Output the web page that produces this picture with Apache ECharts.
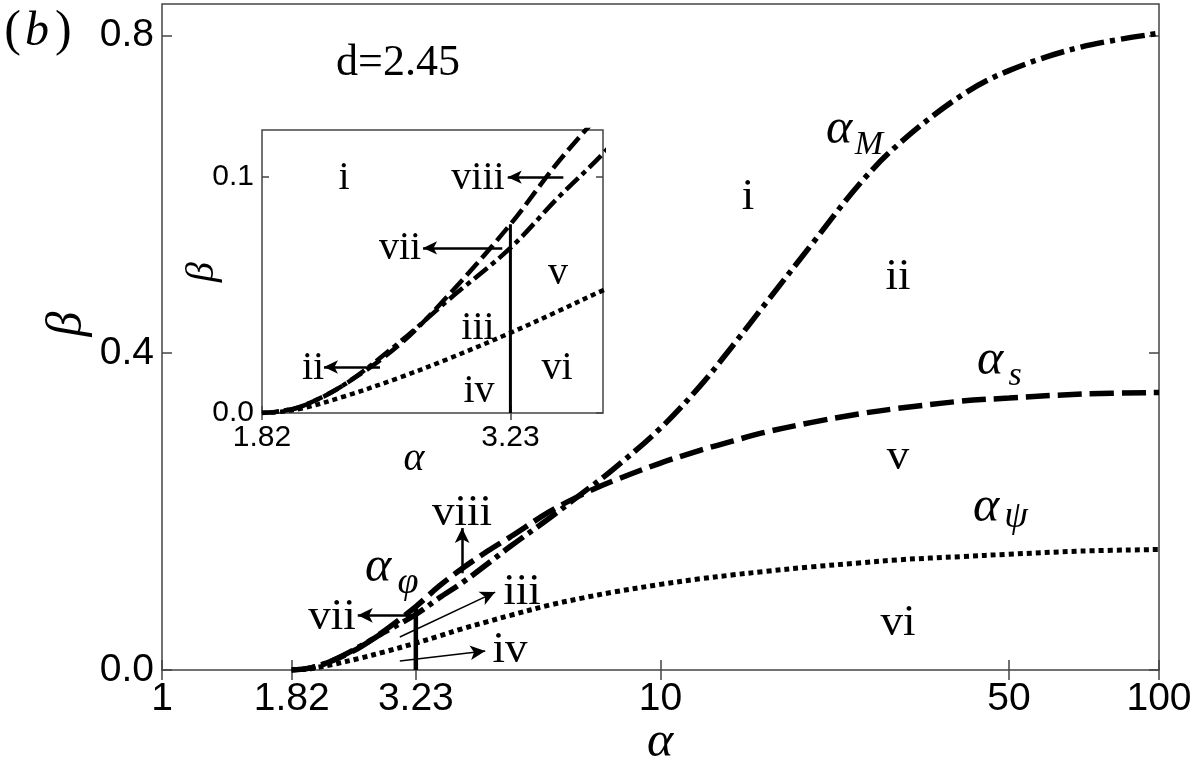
<!DOCTYPE html>
<html>
<head>
<meta charset="utf-8">
<title></title>
<script src="https://cdn.jsdelivr.net/npm/echarts@6/dist/echarts.min.js"></script>
<style>html,body{margin:0;padding:0;background:#fff;}</style>
</head>
<body>
<div id="chart" style="width:1196px;height:769px;"></div>
<script>
// alpha 取值 (横轴, 对数)
var alphaList = [1.82, 1.9, 2.0, 2.2, 2.5, 2.8, 3.23, 3.6, 4.0, 4.5, 5.0, 6.0, 7.0, 8.0, 10, 12, 14, 16, 20, 25, 30, 40, 50, 70, 100];
// alpha_M 曲线 (点划线)
var betaM = [0, 0.0008, 0.003, 0.012, 0.030, 0.048, 0.070, 0.091, 0.110, 0.134, 0.156, 0.192, 0.224, 0.252, 0.305, 0.358, 0.410, 0.457, 0.535, 0.612, 0.663, 0.724, 0.756, 0.786, 0.803];
// alpha_s 曲线 (虚线)
var betaS = [0, 0.0008, 0.003, 0.012, 0.029, 0.050, 0.080, 0.106, 0.128, 0.150, 0.168, 0.200, 0.222, 0.238, 0.261, 0.277, 0.289, 0.299, 0.312, 0.323, 0.330, 0.339, 0.343, 0.348, 0.350];
// alpha_psi 曲线 (点线)
var betaPsi = [0, 0.0005, 0.002, 0.007, 0.015, 0.023, 0.034, 0.043, 0.052, 0.061, 0.069, 0.082, 0.091, 0.098, 0.108, 0.115, 0.120, 0.124, 0.130, 0.135, 0.139, 0.143, 0.146, 0.150, 0.152];
// alpha_phi 竖线
var alphaPhi = [3.23, 3.23];
var betaPhi = [0, 0.08];

// 刻度
var xTicksMain = [1, 1.82, 3.23, 10, 50, 100];
var yTicksMain = [0, 0.4, 0.8];
var xTicksInset = [1.82, 3.23];
var yTicksInset = [0, 0.1];

// 箭头 (起点 -> 终点, 数据坐标)
var arrowsMain = [
  [[3.19, 0.069], [2.47, 0.069]],
  [[4.0, 0.122], [4.0, 0.179]],
  [[3.0, 0.0416], [4.66, 0.0983]],
  [[3.0, 0.0113], [4.45, 0.0239]]
];
var arrowWidthMain = [2.5, 2.5, 1.5, 1.5];
var arrowsInset = [
  [[3.65, 0.100], [3.21, 0.100]],
  [[3.17, 0.070], [2.64, 0.070]],
  [[2.39, 0.0195], [2.10, 0.0195]]
];

function pairs(xs, ys) {
  return xs.map(function (x, i) { return [x, ys[i]]; });
}
function fmtX(v) { return String(+(+v).toFixed(2)); }
function fmtY(v) { return (+v).toFixed(1); }

var SANS = "'Liberation Sans', Arial, sans-serif";
var SERIF = "'Liberation Serif', 'Times New Roman', serif";
var BORDER = '#444';

function xAxisCfg(grid, min, max, ticks, pos, showLabel, fs, tickLen) {
  return {
    gridIndex: grid, type: 'log', logBase: 10, min: min, max: max, position: pos,
    axisLine: { show: false },
    splitLine: { show: false },
    axisTick: { show: true, inside: true, length: tickLen, customValues: ticks, lineStyle: { color: BORDER, width: 1.5 } },
    axisLabel: { show: showLabel, customValues: ticks, margin: 10, fontSize: fs, fontFamily: SANS, color: '#000', formatter: fmtX }
  };
}
function yAxisCfg(grid, min, max, ticks, pos, showLabel, fs, tickLen) {
  return {
    gridIndex: grid, type: 'value', min: min, max: max, position: pos,
    axisLine: { show: false },
    splitLine: { show: false },
    axisTick: { show: true, inside: true, length: tickLen, customValues: ticks, lineStyle: { color: BORDER, width: 1.5 } },
    axisLabel: { show: showLabel, customValues: ticks, margin: 8, fontSize: fs, fontFamily: SANS, color: '#000', formatter: fmtY }
  };
}

function curveSeries(xi, yi, ys, type, width) {
  return {
    type: 'line', xAxisIndex: xi, yAxisIndex: yi,
    data: pairs(alphaList, ys),
    showSymbol: false, smooth: 0.35,
    lineStyle: { color: '#000', width: width, type: type, cap: 'butt' },
    emphasis: { disabled: true }, silent: true
  };
}
function arrowLines(list, widths) {
  return list.map(function (a, i) {
    return [{ coord: a[0], lineStyle: { width: widths[i] } }, { coord: a[1] }];
  });
}

// 文本
function txt(s, x, base, size, font, italic) {
  return {
    type: 'text', z: 100,
    style: {
      text: s, x: x, y: base - 0.34 * size,
      font: (italic ? 'italic ' : '') + size + 'px ' + font,
      fill: '#000', align: 'center', verticalAlign: 'middle'
    }
  };
}
function rotTxt(s, cx, cy, size) {
  return {
    type: 'text', z: 100, x: cx, y: cy, rotation: Math.PI / 2,
    style: { text: s, x: 0, y: 0, font: 'italic ' + size + 'px ' + SERIF, fill: '#000', align: 'center', verticalAlign: 'middle' }
  };
}

var graphics = [
  {
    type: 'text', z: 100,
    style: {
      text: '{p|(}{i|b}{p|)}', x: 38, y: 32, align: 'center', verticalAlign: 'middle',
      rich: {
        p: { font: '50px ' + SERIF, fill: '#000' },
        i: { font: 'italic 48px ' + SERIF, fill: '#000', padding: [0, 6, 0, 4] }
      }
    }
  },
  txt('d=2.45', 398, 78, 44, SERIF),
  // 主图区域编号
  txt('i', 748, 212, 45, SERIF),
  txt('ii', 898, 292, 45, SERIF),
  txt('v', 898, 472, 45, SERIF),
  txt('vi', 898, 638, 45, SERIF),
  txt('viii', 462, 528, 45, SERIF),
  txt('vii', 332, 632, 45, SERIF),
  txt('iii', 522, 607, 45, SERIF),
  txt('iv', 510, 665, 45, SERIF),
  // 曲线标注
  txt('α', 839, 147, 50, SERIF, true), txt('M', 869, 157, 34, SERIF, true),
  txt('α', 990, 378, 50, SERIF, true), txt('s', 1015, 388, 34, SERIF, true),
  txt('α', 986, 525, 50, SERIF, true), txt('ψ', 1016, 530, 38, SERIF, true),
  txt('α', 378, 585, 50, SERIF, true), txt('φ', 408, 596, 38, SERIF, true),
  // 轴名
  txt('α', 660, 760, 50, SERIF, true),
  rotTxt('β', 68, 324, 50),
  // 插图
  txt('i', 344, 192, 40, SERIF),
  txt('viii', 478, 192, 40, SERIF),
  txt('vii', 400, 262, 40, SERIF),
  txt('v', 558, 287, 40, SERIF),
  txt('iii', 478, 342, 40, SERIF),
  txt('ii', 313, 382, 40, SERIF),
  txt('vi', 557, 382, 40, SERIF),
  txt('iv', 479, 405, 40, SERIF),
  txt('α', 414, 473, 40, SERIF, true),
  rotTxt('β', 202, 272, 40)
];

var chart = echarts.init(document.getElementById('chart'));
var option = {
  animation: false,
  backgroundColor: '#fff',
  grid: [
    { left: 162, top: 4, width: 997, height: 666, show: true, borderColor: BORDER, borderWidth: 1.5, backgroundColor: 'transparent' },
    { left: 262, top: 130, width: 341, height: 283, show: true, borderColor: BORDER, borderWidth: 1.5, backgroundColor: '#fff' }
  ],
  xAxis: [
    xAxisCfg(0, 1, 100, xTicksMain, 'bottom', true, 39, 10),
    xAxisCfg(0, 1, 100, xTicksMain, 'top', false, 39, 10),
    xAxisCfg(1, 1.82, 4.0, xTicksInset, 'bottom', true, 30, 7),
    xAxisCfg(1, 1.82, 4.0, xTicksInset, 'top', false, 30, 7)
  ],
  yAxis: [
    yAxisCfg(0, 0, 0.84, yTicksMain, 'left', true, 39, 10),
    yAxisCfg(0, 0, 0.84, yTicksMain, 'right', false, 39, 10),
    yAxisCfg(1, 0, 0.12, yTicksInset, 'left', true, 30, 7),
    yAxisCfg(1, 0, 0.12, yTicksInset, 'right', false, 30, 7)
  ],
  graphic: graphics,
  series: [
    curveSeries(0, 0, betaM, [24, 6, 5, 6], 5.5),
    curveSeries(0, 0, betaS, [24, 8], 5.5),
    curveSeries(0, 0, betaPsi, [5, 4], 5),
    {
      type: 'line', xAxisIndex: 0, yAxisIndex: 0,
      data: pairs(alphaPhi, betaPhi), showSymbol: false,
      lineStyle: { color: '#000', width: 4.5 }, silent: true,
      markLine: {
        silent: true, animation: false, symbol: ['none', 'arrow'], symbolSize: [11, 15],
        label: { show: false }, emphasis: { disabled: true },
        lineStyle: { color: '#000', type: 'solid' },
        data: arrowLines(arrowsMain, arrowWidthMain)
      }
    },
    curveSeries(2, 2, betaM, [17, 5, 5, 5], 4.5),
    curveSeries(2, 2, betaS, [17, 6], 4.5),
    curveSeries(2, 2, betaPsi, [5, 4], 4.5),
    {
      type: 'line', xAxisIndex: 2, yAxisIndex: 2,
      data: pairs(alphaPhi, betaPhi), showSymbol: false,
      lineStyle: { color: '#000', width: 3 }, silent: true,
      markLine: {
        silent: true, animation: false, symbol: ['none', 'arrow'], symbolSize: [10, 14],
        label: { show: false }, emphasis: { disabled: true },
        lineStyle: { color: '#000', type: 'solid', width: 2.5 },
        data: arrowLines(arrowsInset, [2.5, 2.5, 2.5])
      }
    }
  ]
};
chart.setOption(option);
</script>
</body>
</html>
